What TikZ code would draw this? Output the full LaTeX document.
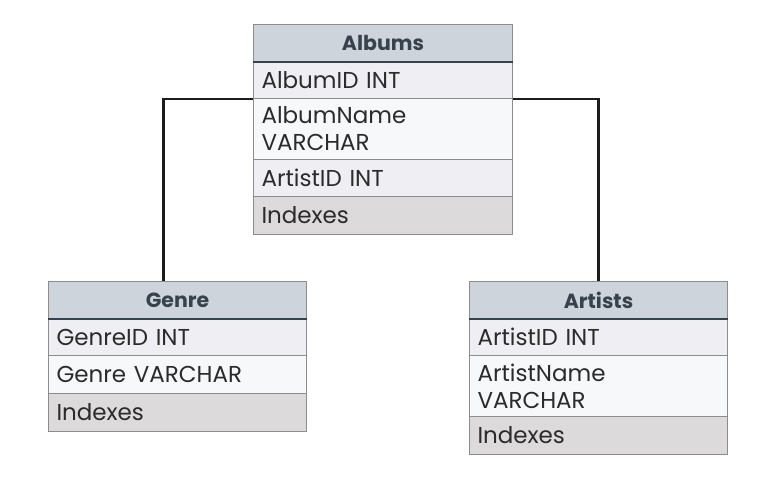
\documentclass[tikz,border=0pt]{standalone}
\usepackage{fontspec}
\setmainfont{Poppins}
\definecolor{hdrfill}{HTML}{CDD4DC}
\definecolor{rowA}{HTML}{EFEFF3}
\definecolor{rowB}{HTML}{F7F8FA}
\definecolor{idxfill}{HTML}{DCDADB}
\definecolor{bordc}{HTML}{8C8C8C}
\definecolor{hdrtext}{HTML}{38424D}
\definecolor{bodytext}{HTML}{2B2B2B}
\definecolor{linec}{HTML}{1C1C1C}
\tikzset{
  cell/.style={draw=bordc, line width=1pt, anchor=north west, inner xsep=8pt, inner ysep=0pt,
    minimum width=#1, text width=#1-16pt, align=left, font=\fontsize{23}{27}\selectfont, text=bodytext},
  hdr/.style={cell=#1, fill=hdrfill, align=center, font=\fontsize{20.5}{27}\selectfont\bfseries, text=hdrtext, minimum height=37pt},
  rowa/.style={cell=#1, fill=rowA, minimum height=37pt},
  rowb/.style={cell=#1, fill=rowB},
  idx/.style={cell=#1, fill=idxfill, minimum height=38pt},
  sep/.style={draw=hdrtext, line width=2pt},
  conn/.style={draw=linec, line width=2.3pt}
}
\begin{document}
\begin{tikzpicture}[x=1pt,y=1pt]
\useasboundingbox (0,0) rectangle (762,-489);
% Albums
\node[hdr=259pt] (albh) at (253,-24) {Albums};
\node[rowa=259pt] (alb1) at (253,-61) {AlbumID INT};
\node[rowb=259pt, minimum height=61pt] (alb2) at (253,-98) {AlbumName\\VARCHAR};
\node[rowa=259pt] (alb3) at (253,-159) {ArtistID INT};
\node[idx=259pt] (alb4) at (253,-196) {Indexes};
\draw[sep] (albh.south west) -- (albh.south east);
% Genre
\node[hdr=258pt] (genh) at (48,-281) {Genre};
\node[rowa=258pt] (gen1) at (48,-318) {GenreID INT};
\node[rowb=258pt, minimum height=38pt] (gen2) at (48,-355) {Genre VARCHAR};
\node[idx=258pt] (gen3) at (48,-393) {Indexes};
\draw[sep] (genh.south west) -- (genh.south east);
% Artists
\node[hdr=258pt] (arth) at (469,-281) {Artists};
\node[rowa=258pt] (art1) at (469,-318) {ArtistID INT};
\node[rowb=258pt, minimum height=61pt] (art2) at (469,-355) {ArtistName\\VARCHAR};
\node[idx=258pt] (art3) at (469,-416) {Indexes};
\draw[sep] (arth.south west) -- (arth.south east);
% connectors
\draw[conn] (alb1.south west) -| ([xshift=-14pt]genh.north);
\draw[conn] (alb1.south east) -| (arth.north);
\end{tikzpicture}
\end{document}
